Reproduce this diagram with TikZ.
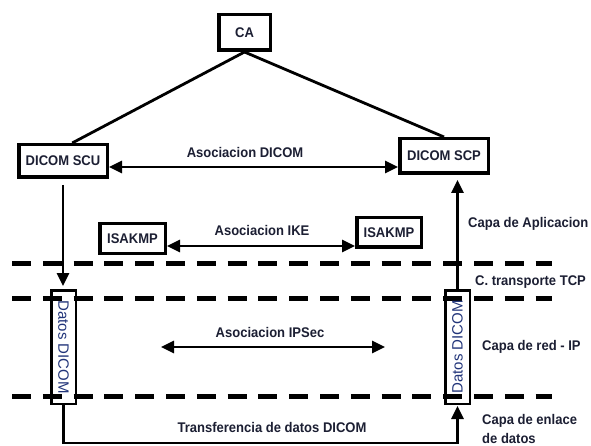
\documentclass[tikz,border=0pt]{standalone}
\usepackage{fontspec}
\setmainfont{Liberation Sans}[FakeStretch=0.93]
\newfontfamily\datfont{Liberation Sans}
\usetikzlibrary{arrows.meta,calc}
\definecolor{ink}{HTML}{1C1F33}
\definecolor{datblue}{HTML}{22357A}
\begin{document}
\begin{tikzpicture}[x=1pt,y=-1pt,
  lbl/.style={font=\fontsize{14}{19}\selectfont\bfseries, text=ink, inner sep=0pt},
  box/.style={draw=black, line width=3.5pt, fill=white, lbl},
  conn/.style={line width=2.8pt},
  arr/.style={conn, -{Triangle[length=13pt,width=12pt]}},
  darr/.style={conn, {Triangle[length=13pt,width=12pt]}-{Triangle[length=13pt,width=12pt]}},
  layer/.style={line width=5pt, dash pattern=on 19pt off 11.8pt},
  datbox/.style={draw=black, line width=2.5pt, minimum width=24.5pt, minimum height=113.5pt, inner sep=0pt},
  dattext/.style={font=\datfont\fontsize{15}{17}\selectfont, text=datblue, inner sep=0pt}
]
\fill[white] (0,0) rectangle (591,446);
\useasboundingbox (0,0) rectangle (591,446);

% layer separators
\draw[layer] (12,263) -- (552,263);
\draw[layer] (12,298) -- (552,298);
\draw[layer] (12,396) -- (552,396);

% boxes
\node[box, minimum width=51.5pt, minimum height=35.5pt] (ca) at (244.5,32.5) {CA};
\node[box, minimum width=88.5pt, minimum height=32.5pt] (scu) at (63,161) {DICOM SCU};
\node[box, minimum width=88.5pt, minimum height=34.5pt] (scp) at (444,156) {DICOM SCP};
\node[box, minimum width=65.5pt, minimum height=29.5pt] (isL) at (132.5,238.5) {ISAKMP};
\node[box, minimum width=64.5pt, minimum height=29.5pt] (isR) at (389,232.5) {ISAKMP};

% datos DICOM columns
\node[datbox] (datL) at (63.5,347) {};
\node[datbox] (datR) at (457.5,347) {};
\node[dattext, rotate=-90] at (datL) {Datos DICOM};
\node[dattext, rotate=90] at (datR) {Datos DICOM};

% labels
\node[lbl] at (245,152) {Asociacion DICOM};
\node[lbl] at (262,230) {Asociacion IKE};
\node[lbl] at (270,332) {Asociacion IPSec};
\node[lbl] at (272,427) {Transferencia de datos DICOM};
\node[lbl, anchor=west] at (468,224) {Capa de Aplicacion};
\node[lbl, anchor=west] at (475,282) {C. transporte TCP};
\node[lbl, anchor=west] at (482,347) {Capa de red - IP};
\node[lbl, anchor=west, align=left] at (482,428.5) {Capa de enlace\\de datos};

% connectors
\draw[conn] (ca.south) -- (scu.63);
\draw[conn] (ca.south) -- (scp.north);
\coordinate (yd) at (0,167);
\draw[darr] (scu.east |- yd) -- (scp.west |- yd);
\coordinate (yi) at (0,246);
\draw[darr] (isL.east |- yi) -- (isR.west |- yi);
\coordinate (ipa) at (161,347);
\coordinate (ipb) at (385,347);
\draw[darr] (ipa) -- (ipb);
\draw[arr, shorten <=6pt, shorten >=3pt] (scu.south) -- (datL.north -| scu.south);
\draw[arr, shorten >=5pt] (datR.north) -- (scp.south -| datR.north);
\coordinate (bot) at (260,443);
\draw[arr, shorten >=1pt] (datL.south) |- (bot) -| (datR.south);
\end{tikzpicture}
\end{document}
